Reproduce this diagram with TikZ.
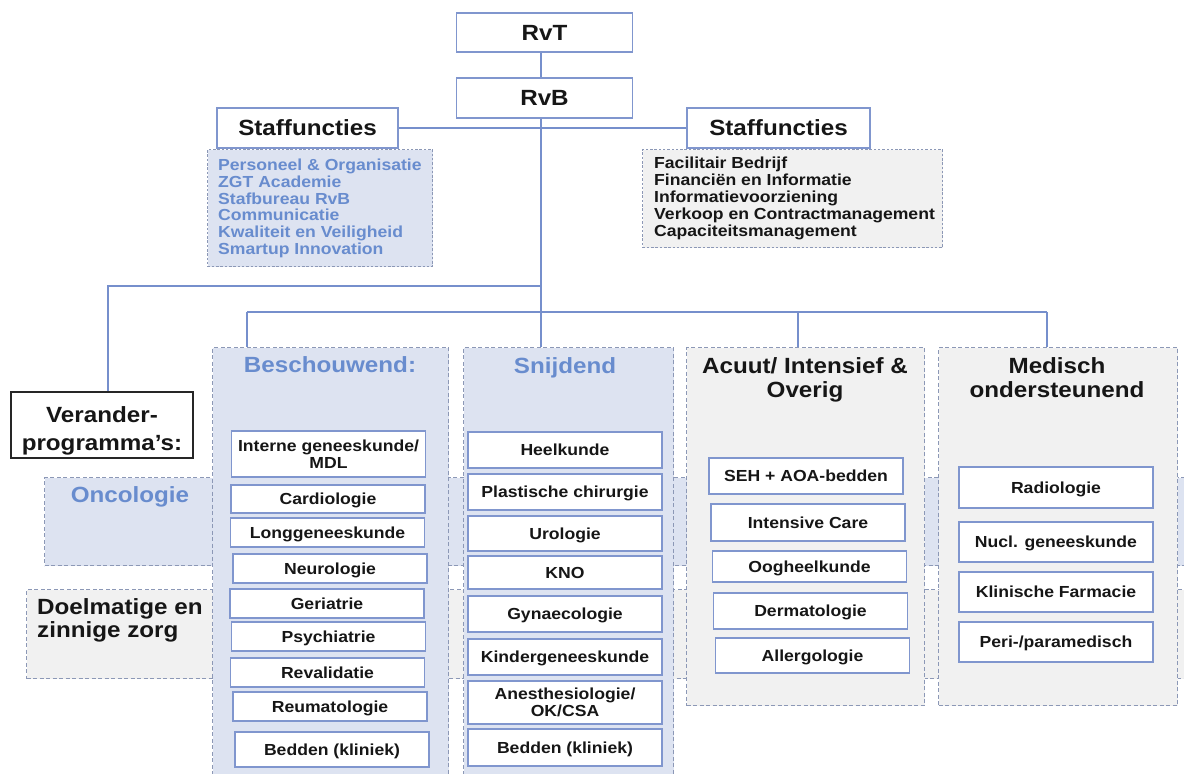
\documentclass[tikz,border=0pt]{standalone}
\usepackage{fontspec}
\setmainfont{Liberation Sans}[FakeStretch=1.1]
\definecolor{linec}{RGB}{118,143,204}
\definecolor{boxc}{RGB}{128,150,206}
\definecolor{dashc}{RGB}{140,152,182}
\definecolor{bluef}{RGB}{221,227,241}
\definecolor{greyf}{RGB}{241,241,241}
\definecolor{bluet}{RGB}{104,140,206}
\definecolor{textc}{RGB}{22,22,22}
\begin{document}
\begin{tikzpicture}[x=1pt,y=-1pt,
  conn/.style={draw=linec, line width=2pt},
  topbox/.style={draw=boxc, line width=1.5pt, fill=white, inner sep=0pt, text=textc,
    font=\fontsize{22}{24}\selectfont\bfseries, text height=15.8pt, text depth=0pt},
  ibase/.style={draw=boxc, line width=1.4pt, fill=white, inner sep=0pt, text=textc,
    minimum width=194pt, align=center, font=\fontsize{16}{17}\selectfont\bfseries},
  ibox/.style={ibase, text height=11.5pt, text depth=0pt},
  dashbox/.style={draw=dashc, line width=1.1pt, dash pattern=on 4pt off 2.5pt, inner sep=0pt, anchor=north west},
  listbox/.style={draw=dashc, line width=1.1pt, dash pattern=on 2.5pt off 1.8pt, inner sep=0pt, anchor=north west},
  listtext/.style={inner sep=0pt, anchor=base west, font=\fontsize{16}{17}\selectfont\bfseries},
  ctitle/.style={inner sep=0pt, font=\fontsize{22}{24}\selectfont\bfseries, text height=15.8pt, text depth=0pt},
  ctitletwo/.style={inner sep=0pt, align=center, text=textc, font=\fontsize{22}{23.5}\selectfont\bfseries},
]
\useasboundingbox (0,0) rectangle (1184,774);
\clip (0,0) rectangle (1184,774);

% bands of the change programmes
\node[dashbox, fill=bluef, minimum width=1160pt, minimum height=88pt] (onc) at (44,477) {};
\node[dashbox, fill=greyf, minimum width=1180pt, minimum height=89pt] (doel) at (26,589) {};
\node[ctitle, text=bluet] (onct) at (130,495) {Oncologie};
\node[inner sep=0pt, anchor=west, align=left, text=textc, font=\fontsize{22}{23.5}\selectfont\bfseries] (doelt) at (37,620.5) {Doelmatige en\\zinnige zorg};

% columns
\node[dashbox, fill=bluef, minimum width=236pt, minimum height=450pt] (besch) at (212,347) {};
\node[dashbox, fill=bluef, minimum width=210pt, minimum height=450pt] (snij) at (463,347) {};
\node[dashbox, fill=greyf, minimum width=238pt, minimum height=358pt] (acuut) at (686,347) {};
\node[dashbox, fill=greyf, minimum width=239pt, minimum height=358pt] (medi) at (938,347) {};

\node[ctitle, text=bluet] (beschT) at (330,365) {Beschouwend:};
\node[ctitle, text=bluet] (snijT) at (565,366) {Snijdend};
\node[ctitletwo] (acuutT) at (805,380) {Acuut/ Intensief \&\\Overig};
\node[ctitletwo] (mediT) at (1057,377.5) {Medisch\\ondersteunend};

% Beschouwend
\node[ibase, minimum height=46pt] (b1) at (328.5,454) {Interne geneeskunde/\\MDL};
\node[ibox, minimum height=28pt] (b2) at (328,499) {Cardiologie};
\node[ibox, minimum height=29pt] (b3) at (327.5,532.5) {Longgeneeskunde};
\node[ibox, minimum height=29pt] (b4) at (330,568.5) {Neurologie};
\node[ibox, minimum height=29pt] (b5) at (327,603.5) {Geriatrie};
\node[ibox, minimum height=29pt] (b6) at (328.5,636.5) {Psychiatrie};
\node[ibox, minimum height=29pt] (b7) at (327.5,672.5) {Revalidatie};
\node[ibox, minimum height=29pt] (b8) at (330,706.5) {Reumatologie};
\node[ibox, minimum height=35pt] (b9) at (332,749.5) {Bedden (kliniek)};

% Snijdend
\node[ibox, minimum height=36pt] (s1) at (565,450) {Heelkunde};
\node[ibox, minimum height=36pt] (s2) at (565,492) {Plastische chirurgie};
\node[ibox, minimum height=35pt] (s3) at (565,533.5) {Urologie};
\node[ibox, minimum height=33pt] (s4) at (565,572.5) {KNO};
\node[ibox, minimum height=36pt] (s5) at (565,614) {Gynaecologie};
\node[ibox, minimum height=36pt] (s6) at (565,657) {Kindergeneeskunde};
\node[ibase, minimum height=43pt] (s7) at (565,702.5) {Anesthesiologie/\\OK/CSA};
\node[ibox, minimum height=37pt] (s8) at (565,747.5) {Bedden (kliniek)};

% Acuut
\node[ibox, minimum height=36pt] (a1) at (806,476) {SEH + AOA-bedden};
\node[ibox, minimum height=37pt] (a2) at (808,522.5) {Intensive Care};
\node[ibox, minimum height=31pt] (a3) at (809.5,566.5) {Oogheelkunde};
\node[ibox, minimum height=36pt] (a4) at (810.5,611) {Dermatologie};
\node[ibox, minimum height=35pt] (a5) at (812.5,655.5) {Allergologie};

% Medisch ondersteunend
\node[ibox, minimum height=41pt] (m1) at (1056,487.5) {Radiologie};
\node[ibox, minimum height=40pt] (m2) at (1056,542) {Nucl. geneeskunde};
\node[ibox, minimum height=40pt] (m3) at (1056,592) {Klinische Farmacie};
\node[ibox, minimum height=40pt] (m4) at (1056,642) {Peri-/paramedisch};

% staff lists
\node[listbox, fill=bluef, minimum width=225pt, minimum height=117pt] (llist) at (207,149) {};
\foreach \t [count=\i] in {Personeel \& Organisatie, ZGT Academie, Stafbureau RvB, Communicatie, Kwaliteit en Veiligheid, Smartup Innovation}
  \node[listtext, text=bluet] (ll\i) at (218,{170.5+16.8*(\i-1)}) {\t};
\node[listbox, fill=greyf, minimum width=300pt, minimum height=98pt] (rlist) at (642,149) {};
\foreach \t [count=\i] in {Facilitair Bedrijf, Financiën en Informatie, Informatievoorziening, Verkoop en Contractmanagement, Capaciteitsmanagement}
  \node[listtext, text=textc] (rl\i) at (654,{168.7+17*(\i-1)}) {\t};

% top boxes
\node[topbox, minimum width=176pt, minimum height=39pt] (rvt) at (544.5,32.5) {RvT};
\node[topbox, minimum width=176pt, minimum height=40pt] (rvb) at (544.5,98) {RvB};
\node[topbox, minimum width=181pt, minimum height=40pt] (lstaf) at (307.5,128) {Staffuncties};
\node[topbox, minimum width=183pt, minimum height=40pt] (rstaf) at (778.5,128) {Staffuncties};

% Verander-programma's
\node[draw=black!85, line width=1.6pt, fill=white, minimum width=182pt, minimum height=66pt, inner sep=0pt] (ver) at (102,425) {};
\node[inner sep=0pt, align=center, text=textc, font=\fontsize{22}{28}\selectfont\bfseries] (vert) at (102,431) {Verander-\\programma’s:};

% connectors
\coordinate (sp) at (541,0);
\coordinate (vx) at (108,0);
\coordinate (vj) at (541,286);
\coordinate (bj1) at (247,312);
\coordinate (bj3) at (798,312);
\coordinate (bj4) at (1047,312);
\draw[conn] (rvt.south -| sp) -- (rvb.north -| sp);
\draw[conn] (lstaf.east) -- (rstaf.west);
\draw[conn] (rvb.south -| sp) -- (snij.north -| sp);
\draw[conn] (vj) -| (ver.north -| vx);
\draw[conn] (bj1) -- (bj4);
\draw[conn] (bj1) -- (bj1 |- besch.north);
\draw[conn] (bj3) -- (bj3 |- acuut.north);
\draw[conn] (bj4) -- (bj4 |- medi.north);
\end{tikzpicture}
\end{document}
